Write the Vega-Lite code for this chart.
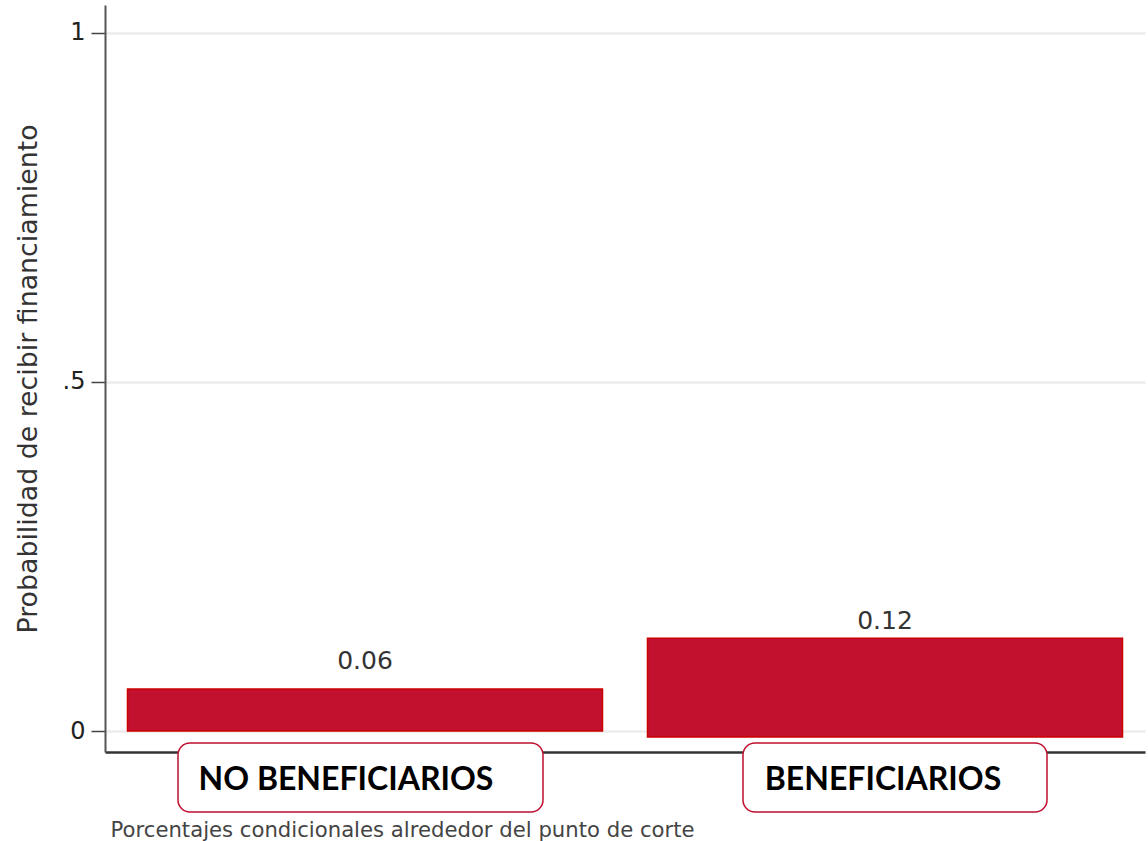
{
  "$schema": "https://vega.github.io/schema/vega-lite/v6.json",
  "autosize": "none",
  "width": 1040,
  "height": 747,
  "padding": {"left": 105, "top": 5, "right": 3, "bottom": 89},
  "background": "white",
  "config": {"view": {"stroke": null}, "font": "DejaVu Sans"},
  "data": {"values": [
    {"grupo": "NO BENEFICIARIOS", "inicio": 0, "fin": 0.0602, "etiqueta": "0.06"},
    {"grupo": "BENEFICIARIOS", "inicio": -0.0085, "fin": 0.133, "etiqueta": "0.12"}
  ]},
  "encoding": {
    "x": {"field": "grupo", "type": "nominal", "sort": null,
      "scale": {"paddingInner": 0.0865, "paddingOuter": 0.04325},
      "axis": {"labels": false, "ticks": false, "domain": true, "domainColor": "#333", "domainWidth": 2.5,
        "title": "Porcentajes condicionales alrededor del punto de corte",
        "titleFont": "DejaVu Sans", "titleFontSize": 21.2, "titleFontWeight": "normal", "titleColor": "#444",
        "titleAnchor": "start", "titleAlign": "left", "titleX": 5, "titleY": 84, "titleBaseline": "alphabetic"}}
  },
  "layer": [
    {
      "mark": {"type": "bar", "fill": "#C1112F", "stroke": "#CC0000", "strokeWidth": 1.5},
      "encoding": {
        "y": {"field": "fin", "type": "quantitative",
          "scale": {"domain": [-0.03, 1.04], "nice": false, "zero": false},
          "axis": {"values": [0, 0.5, 1], "labelExpr": "datum.value == 0 ? '0' : (datum.value == 1 ? '1' : '.5')",
            "labelFont": "DejaVu Sans", "labelFontSize": 24, "labelColor": "#222", "labelPadding": 6,
            "tickSize": 14, "tickColor": "#444", "tickWidth": 1.5,
            "domain": true, "domainColor": "#555", "domainWidth": 2,
            "grid": true, "gridColor": "#ececec", "gridWidth": 2.5,
            "title": "Probabilidad de recibir financiamiento", "titleFont": "DejaVu Sans", "titleFontSize": 26.8,
            "titleFontWeight": "normal", "titleColor": "#333", "titlePadding": 20}},
        "y2": {"field": "inicio"}
      }
    },
    {
      "mark": {"type": "text", "font": "DejaVu Sans", "fontSize": 25, "color": "#333", "baseline": "alphabetic",
        "dy": {"expr": "datum.grupo === 'BENEFICIARIOS' ? -9 : -20"}},
      "encoding": {
        "y": {"field": "fin", "type": "quantitative"},
        "text": {"field": "etiqueta"}
      }
    },
    {
      "mark": {"type": "bar", "fill": "white", "stroke": "#C0102F", "strokeWidth": 1.5, "cornerRadius": 12,
        "width": {"expr": "datum.grupo === 'BENEFICIARIOS' ? 304 : 365"},
        "xOffset": {"expr": "datum.grupo === 'BENEFICIARIOS' ? 10 : -4.5"}},
      "encoding": {
        "y": {"datum": -0.0171, "type": "quantitative"},
        "y2": {"datum": -0.1159}
      }
    },
    {
      "mark": {"type": "text", "font": "Lato", "fontWeight": "bold", "fontSize": 32, "color": "#000", "baseline": "alphabetic",
        "dx": {"expr": "datum.grupo === 'BENEFICIARIOS' ? -2 : -19"}},
      "encoding": {
        "y": {"datum": -0.0844, "type": "quantitative"},
        "text": {"field": "grupo"}
      }
    }
  ]
}
